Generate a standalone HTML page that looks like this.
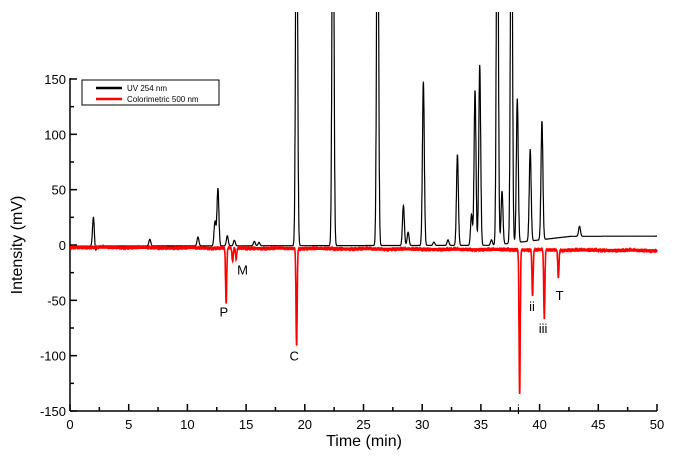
<!DOCTYPE html>
<html><head><meta charset="utf-8"><style>
body{margin:0;background:#fff;font-family:"Liberation Sans",Arial,sans-serif}
svg text{font-family:"Liberation Sans",Arial,sans-serif}
</style></head><body>
<svg id="c" width="674" height="461" viewBox="0 0 674 461">
<defs><clipPath id="clip"><rect x="70" y="12" width="590" height="400"/></clipPath></defs>
<g id="axes"></g>
<g clip-path="url(#clip)"><path id="uv" fill="none" stroke="#000" stroke-width="1.2"/>
<path id="col" fill="none" stroke="#f00" stroke-width="1.6"/></g>
<g>
<rect x="82" y="80" width="137" height="25" fill="#fff" stroke="#000" stroke-width="1"/>
<line x1="96" y1="88" x2="122" y2="88" stroke="#000" stroke-width="2.5"/>
<text x="127" y="91" font-size="8">UV 254 nm</text>
<line x1="96" y1="99" x2="122" y2="99" stroke="#f00" stroke-width="2.5"/>
<text x="127" y="102" font-size="8">Colorimetric 500 nm</text>
</g>
<g font-size="13" id="labels"></g>
<text x="364" y="446" font-size="16" text-anchor="middle">Time (min)</text>
<text transform="translate(22,245) rotate(-90)" font-size="16" text-anchor="middle">Intensity (mV)</text>
</svg>
<script>
const xTicks=[0,5,10,15,20,25,30,35,40,45,50];
const yTicks=[-150,-100,-50,0,50,100,150];
const uvTimes=[2.0,2.15,6.8,10.9,12.35,12.6,13.4,14.0,15.7,16.1,19.3,22.4,26.2,28.4,28.8,30.1,31.0,32.2,33.0,34.2,34.5,34.9,35.9,36.4,36.8,37.6,38.1,39.2,40.2,43.4];
const uvHeights=[27,-6,6,8,22,52,9,5,4,3,400,400,400,36,12,148,3,5,82,28,140,163,5,400,48,400,130,83,107,9];
const colTimes=[13.3,13.85,14.15,19.3,38.3,39.4,40.4,41.6];
const colDepths=[-50,-12,-10,-88,-130,-42,-62,-25];
const peakLabels=["P","M","C","i","ii","iii","T"];
const labelTimes=[13.1,14.7,19.1,38.2,39.35,40.3,41.7];
const labelValues=[-60,-22,-100,-148,-55,-75,-45];
const X=t=>70+t*(587/50), Y=v=>245-v*(166/150);
const NS="http://www.w3.org/2000/svg";
const ax=document.getElementById('axes');
function mk(tag,at,par){const e=document.createElementNS(NS,tag);for(const k in at)e.setAttribute(k,at[k]);(par||ax).appendChild(e);return e;}
let l=mk('line',{x1:70,y1:411,x2:657,y2:411,stroke:'#000','stroke-width':1.5});


l=mk('line',{x1:70,y1:78,x2:70,y2:411,stroke:'#000','stroke-width':1.5});


xTicks.forEach((t,i)=>{mk('line',{x1:X(t),y1:411,x2:X(t),y2:404,stroke:'#000','stroke-width':1.5});
 if(i<xTicks.length-1)mk('line',{x1:X(t+2.5),y1:411,x2:X(t+2.5),y2:407,stroke:'#000','stroke-width':1.5});
 const tx=mk('text',{x:X(t),y:429,'font-size':13,'text-anchor':'middle'});tx.textContent=t;
 
 });
yTicks.forEach((v,i)=>{mk('line',{x1:70,y1:Y(v),x2:77,y2:Y(v),stroke:'#000','stroke-width':1.5});
 if(i<yTicks.length-1)mk('line',{x1:70,y1:Y(v+25),x2:74,y2:Y(v+25),stroke:'#000','stroke-width':1.5});
 const tx=mk('text',{x:66,y:Y(v)+5,'font-size':13,'text-anchor':'end'});tx.textContent=v;
 
 });
const w=0.08;
function uvAt(t){let b=-1+t*0.02+(t>36?Math.min(8,(t-36)*1.2):0);let s=b;uvTimes.forEach((p,i)=>{s+=uvHeights[i]*Math.exp(-((t-p)**2)/(2*w*w));});return s;}
function colAt(t){let s=-2-t*0.06+(Math.sin(t*90)*0.6);colTimes.forEach((p,i)=>{s+=colDepths[i]*Math.exp(-((t-p)**2)/(2*0.05*0.05));});return s;}
let d1='',d2='';
for(let t=0;t<=50;t+=0.01){d1+=(t?'L':'M')+X(t).toFixed(1)+','+Y(uvAt(t)).toFixed(1);d2+=(t?'L':'M')+X(t).toFixed(1)+','+Y(colAt(t)).toFixed(1);}
document.getElementById('uv').setAttribute('d',d1);
document.getElementById('col').setAttribute('d',d2);
const lg=document.getElementById('labels');
peakLabels.forEach((s,i)=>{const tx=mk('text',{x:X(labelTimes[i]),y:Y(labelValues[i])+5,'text-anchor':'middle'},lg);tx.textContent=s;
 
 });
</script>
</body></html>
